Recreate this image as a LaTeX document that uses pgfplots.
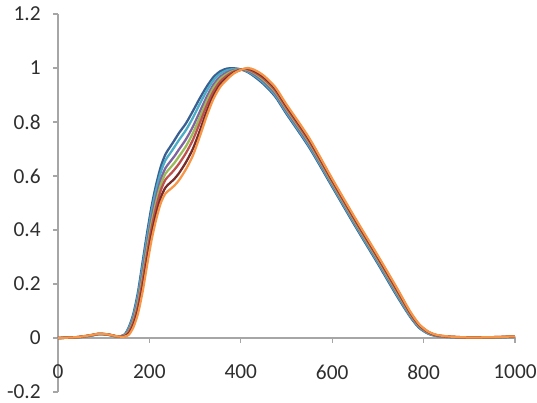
\documentclass[border=0pt]{standalone}
\usepackage{fontspec}
\setmainfont{Carlito}
\usepackage{pgfplots}
\pgfplotsset{compat=1.18}
\definecolor{axisgray}{HTML}{A6A6A6}
\definecolor{labelgray}{HTML}{2E2E2E}
\definecolor{cA}{HTML}{3B5E91}
\definecolor{cB}{HTML}{4BACC6}
\definecolor{cC}{HTML}{8064A2}
\definecolor{cD}{HTML}{9BBB59}
\definecolor{cE}{HTML}{C0504D}
\definecolor{cF}{HTML}{772C2A}
\definecolor{cG}{HTML}{F79646}
\begin{document}
\begin{tikzpicture}
\useasboundingbox (-43.5pt,-8.25pt) rectangle (359.25pt,294pt);
\begin{axis}[
  at={(0pt,0pt)}, anchor=south west,
  scale only axis, width=342.75pt, height=283.5pt,
  xmin=0, xmax=1000, ymin=-0.2, ymax=1.2,
  axis x line=middle, axis y line=left,
  axis line style={draw=axisgray, line width=0.8pt, -},
  hide obscured x ticks=false, hide obscured y ticks=false,
  xtick={0,200,400,600,800,1000},
  xticklabels={0,200,400,600,800,1000},
  ytick={-0.2,0,0.2,0.4,0.6,0.8,1,1.2},
  yticklabels={-0.2,0,0.2,0.4,0.6,0.8,1,1.2},
  tick align=outside, major tick length=3.5pt,
  tick style={draw=axisgray, line width=0.8pt},
  every tick label/.append style={font=\fontsize{16}{19}\selectfont, text=labelgray},
  xticklabel style={anchor=north, yshift=-13pt},
  yticklabel style={anchor=east, xshift=-6pt},
  clip=false,
  every axis plot/.append style={line width=1.7pt, smooth, tension=0.45, line join=round, no marks},
]
% f = 0 (leftmost rise, highest shoulder)
\addplot[cA] coordinates {
(0,0) (40,0.002) (70,0.008) (90,0.014) (110,0.012) (130,0.005)
(145,0.012) (155,0.04) (165,0.09) (175,0.17) (185,0.28) (195,0.39) (205,0.49) (215,0.57)
(225,0.635) (235,0.68) (245,0.707) (255,0.733) (265,0.76) (280,0.795) (295,0.84) (310,0.887)
(325,0.93) (340,0.966) (355,0.988) (370,0.998) (385,0.999) (400,0.995) (415,0.985) (430,0.968)
(450,0.94) (475,0.895) (500,0.83) (550,0.705) (600,0.56) (650,0.415) (700,0.275) (740,0.16)
(770,0.08) (790,0.038) (810,0.016) (830,0.007) (860,0.003) (900,0.001) (950,0.002) (1000,0.004)
};
% f = 0.15
\addplot[cB] coordinates {
(0,0) (40,0.002) (70,0.008) (90,0.014) (110,0.012) (130,0.005)
(145,0.011) (155,0.036) (165,0.083) (175,0.158) (185,0.264) (195,0.372) (205,0.471) (215,0.551)
(225,0.615) (235,0.658) (245,0.683) (255,0.708) (265,0.734) (280,0.770) (295,0.815) (310,0.866)
(325,0.914) (340,0.954) (355,0.979) (370,0.992) (385,0.996) (400,0.995) (415,0.987) (430,0.972)
(450,0.945) (475,0.900) (500,0.835) (550,0.710) (600,0.565) (650,0.420) (700,0.280) (740,0.165)
(770,0.083) (790,0.040) (810,0.017) (830,0.007) (860,0.003) (900,0.001) (950,0.002) (1000,0.004)
};
% f = 0.35
\addplot[cC] coordinates {
(0,0) (40,0.002) (70,0.009) (90,0.015) (110,0.012) (130,0.005)
(145,0.010) (155,0.030) (165,0.073) (175,0.142) (185,0.242) (195,0.348) (205,0.446) (215,0.525)
(225,0.588) (235,0.629) (245,0.652) (255,0.674) (265,0.699) (280,0.736) (295,0.782) (310,0.837)
(325,0.892) (340,0.938) (355,0.968) (370,0.984) (385,0.992) (400,0.994) (415,0.990) (430,0.977)
(450,0.951) (475,0.907) (500,0.842) (550,0.717) (600,0.571) (650,0.426) (700,0.286) (740,0.171)
(770,0.087) (790,0.043) (810,0.019) (830,0.008) (860,0.004) (900,0.001) (950,0.002) (1000,0.005)
};
% f = 0.5
\addplot[cD] coordinates {
(0,0) (40,0.002) (70,0.009) (90,0.015) (110,0.012) (130,0.005)
(145,0.0085) (155,0.026) (165,0.065) (175,0.13) (185,0.225) (195,0.33) (205,0.428) (215,0.505)
(225,0.568) (235,0.608) (245,0.629) (255,0.649) (265,0.673) (280,0.71) (295,0.758) (310,0.816)
(325,0.875) (340,0.926) (355,0.959) (370,0.978) (385,0.990) (400,0.994) (415,0.993) (430,0.981)
(450,0.956) (475,0.913) (500,0.848) (550,0.723) (600,0.575) (650,0.43) (700,0.29) (740,0.175)
(770,0.09) (790,0.045) (810,0.02) (830,0.009) (860,0.004) (900,0.002) (950,0.002) (1000,0.005)
};
% f = 0.65
\addplot[cE] coordinates {
(0,0) (40,0.003) (70,0.009) (90,0.015) (110,0.013) (130,0.006)
(145,0.007) (155,0.022) (165,0.058) (175,0.118) (185,0.209) (195,0.312) (205,0.409) (215,0.486)
(225,0.547) (235,0.586) (245,0.605) (255,0.624) (265,0.646) (280,0.685) (295,0.733) (310,0.795)
(325,0.859) (340,0.913) (355,0.950) (370,0.972) (385,0.987) (400,0.994) (415,0.995) (430,0.984)
(450,0.961) (475,0.918) (500,0.853) (550,0.728) (600,0.580) (650,0.435) (700,0.295) (740,0.180)
(770,0.093) (790,0.047) (810,0.021) (830,0.009) (860,0.004) (900,0.002) (950,0.003) (1000,0.005)
};
% f = 0.85
\addplot[cF] coordinates {
(0,0) (40,0.003) (70,0.010) (90,0.016) (110,0.013) (130,0.006)
(145,0.006) (155,0.016) (165,0.048) (175,0.102) (185,0.187) (195,0.288) (205,0.384) (215,0.460)
(225,0.520) (235,0.557) (245,0.574) (255,0.590) (265,0.611) (280,0.651) (295,0.700) (310,0.766)
(325,0.837) (340,0.897) (355,0.939) (370,0.964) (385,0.983) (400,0.993) (415,0.998) (430,0.989)
(450,0.967) (475,0.925) (500,0.860) (550,0.735) (600,0.586) (650,0.441) (700,0.301) (740,0.186)
(770,0.097) (790,0.050) (810,0.023) (830,0.010) (860,0.005) (900,0.002) (950,0.003) (1000,0.006)
};
% f = 1 (rightmost rise, lowest shoulder)
\addplot[cG] coordinates {
(0,0) (40,0.003) (70,0.010) (90,0.016) (110,0.013) (130,0.006)
(145,0.005) (155,0.012) (165,0.04) (175,0.09) (185,0.17) (195,0.27) (205,0.365) (215,0.44)
(225,0.5) (235,0.535) (245,0.55) (255,0.565) (265,0.585) (280,0.625) (295,0.675) (310,0.745)
(325,0.82) (340,0.885) (355,0.93) (370,0.958) (385,0.98) (400,0.993) (415,1.0) (430,0.993)
(450,0.972) (475,0.93) (500,0.865) (550,0.74) (600,0.59) (650,0.445) (700,0.305) (740,0.19)
(770,0.1) (790,0.052) (810,0.024) (830,0.011) (860,0.005) (900,0.002) (950,0.003) (1000,0.006)
};
\end{axis}
\end{tikzpicture}
\end{document}
